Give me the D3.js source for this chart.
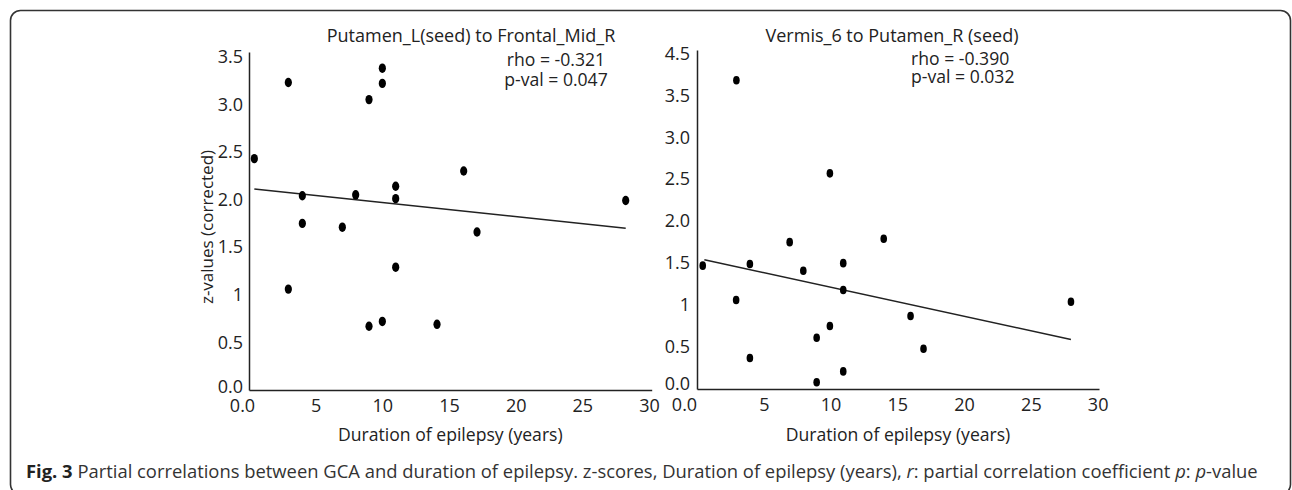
<!DOCTYPE html>
<html>
<head>
<meta charset="utf-8">
<script src="https://cdn.jsdelivr.net/npm/d3@7"></script>
<style>
  body { margin: 0; background: #fff; }
  svg text { font-family: "Open Sans", sans-serif; fill: #222; }
</style>
</head>
<body>
<svg width="1292" height="490"></svg>
<script>
// left panel: Putamen_L(seed) to Frontal_Mid_R
var leftDuration = [2.95, 10.0, 10.0, 9.0, 0.4, 16.1, 11.0, 4.0, 8.0, 11.0, 28.25, 4.0, 7.0, 17.1, 11.0, 2.95, 9.0, 10.0, 14.1];
var leftZ = [3.23, 3.38, 3.22, 3.05, 2.43, 2.30, 2.14, 2.04, 2.05, 2.01, 1.99, 1.75, 1.71, 1.66, 1.29, 1.06, 0.67, 0.72, 0.69];
var leftFitX = [0.4, 28.25];
var leftFitZ = [2.11, 1.70];

// right panel: Vermis_6 to Putamen_R (seed)
var rightDuration = [0.43, 3.96, 6.94, 7.96, 10.95, 10.95, 13.98, 2.93, 28.0, 15.99, 9.95, 8.96, 16.96, 3.96, 10.95, 8.96, 2.95, 9.95];
var rightZ = [1.47, 1.49, 1.75, 1.41, 1.50, 1.18, 1.79, 1.06, 1.04, 0.87, 0.75, 0.61, 0.48, 0.37, 0.21, 0.08, 3.68, 2.57];
var rightFitX = [0.55, 28.0];
var rightFitZ = [1.54, 0.59];

// tick values and the labels printed on them
var xTicks = [0, 5, 10, 15, 20, 25, 30];
var xTickLabels = ["0.0", "5", "10", "15", "20", "25", "30"];
var leftYTicks = [0, 0.5, 1, 1.5, 2, 2.5, 3, 3.5];
var leftYTickLabels = ["0.0", "0.5", "1", "1.5", "2.0", "2.5", "3.0", "3.5"];
var rightYTicks = [0, 0.5, 1, 1.5, 2, 2.5, 3, 3.5, 4];
var rightYTickLabels = ["0.0", "0.5", "1", "1.5", "2.0", "2.5", "3.0", "3.5", "4.5"];

var svg = d3.select("svg");

// rounded frame around the figure
svg.append("rect")
    .attr("x", 10.5).attr("y", 10.5)
    .attr("width", 1280).attr("height", 484)
    .attr("rx", 10)
    .attr("fill", "none")
    .attr("stroke", "#333")
    .attr("stroke-width", 1.6);

function drawPanel(p) {
  var x = d3.scaleLinear().domain(p.xDomain).range(p.xRange);
  var y = d3.scaleLinear().domain(p.yDomain).range(p.yRange);
  var g = svg.append("g");

  // x axis
  var xa = g.append("g")
      .attr("transform", "translate(0," + p.yRange[0] + ")")
      .call(d3.axisBottom(x).tickValues(xTicks)
        .tickFormat(function(d, i) { return xTickLabels[i]; })
        .tickSize(0).tickSizeOuter(0).tickPadding(9));
  xa.selectAll("text").attr("font-size", 18)
      .attr("dx", function(d) { return d === 0 ? p.zeroShift : 0; });

  // y axis
  var ya = g.append("g")
      .attr("transform", "translate(" + p.xRange[0] + ",0)")
      .call(d3.axisLeft(y).tickValues(p.yTicks)
        .tickFormat(function(d, i) { return p.yTickLabels[i]; })
        .tickSize(0).tickSizeOuter(0).tickPadding(p.yPad));
  ya.selectAll("text").attr("font-size", 18)
      .attr("y", function(d) { return d === 0 ? p.zeroLift : 0; });

  g.selectAll(".domain").attr("stroke", "#222").attr("stroke-width", 1.5);

  // fitted line
  var fit = p.fitX.map(function(d, i) { return [d, p.fitZ[i]]; });
  g.append("path")
      .datum(fit)
      .attr("fill", "none")
      .attr("stroke", "#222")
      .attr("stroke-width", 1.5)
      .attr("d", d3.line().x(function(d) { return x(d[0]); }).y(function(d) { return y(d[1]); }));

  // points
  g.selectAll("ellipse")
      .data(p.xs)
      .enter().append("ellipse")
      .attr("cx", function(d) { return x(d); })
      .attr("cy", function(d, i) { return y(p.zs[i]); })
      .attr("rx", p.rx).attr("ry", p.ry)
      .attr("fill", "#000");

  // title
  g.append("text")
      .attr("x", p.titleX).attr("y", p.titleY)
      .attr("text-anchor", "middle")
      .attr("font-size", 18)
      .text(p.title);

  // stats, two lines in one text block
  var st = g.append("text")
      .attr("y", p.statY)
      .attr("text-anchor", p.statAnchor)
      .attr("font-size", 17.6);
  p.stats.forEach(function(s, i) {
    st.append("tspan")
        .attr("x", p.statX)
        .attr("dy", i === 0 ? 0 : p.statGap)
        .text(s);
  });

  // x axis title
  g.append("text")
      .attr("x", (p.xRange[0] + p.xRange[1]) / 2)
      .attr("y", 441)
      .attr("text-anchor", "middle")
      .attr("font-size", 17.6)
      .text("Duration of epilepsy (years)");
}

drawPanel({
  xs: leftDuration, zs: leftZ, fitX: leftFitX, fitZ: leftFitZ,
  xDomain: [0, 30.2], xRange: [249, 651.7],
  yDomain: [0, 3.55], yRange: [390, 52],
  yTicks: leftYTicks, yTickLabels: leftYTickLabels, yPad: 6, zeroShift: -7, zeroLift: -3,
  rx: 3.6, ry: 4.7,
  title: "Putamen_L(seed) to Frontal_Mid_R", titleX: 471, titleY: 42,
  stats: ["rho = -0.321", "p-val = 0.047"], statX: 556, statY: 66, statGap: 20, statAnchor: "middle"
});

drawPanel({
  xs: rightDuration, zs: rightZ, fitX: rightFitX, fitZ: rightFitZ,
  xDomain: [0, 30.1], xRange: [697, 1099],
  yDomain: [0, 4.04], yRange: [389, 50],
  yTicks: rightYTicks, yTickLabels: rightYTickLabels, yPad: 7, zeroShift: -13, zeroLift: -5,
  rx: 3.3, ry: 4.3,
  title: "Vermis_6 to Putamen_R (seed)", titleX: 892, titleY: 42,
  stats: ["rho = -0.390", "p-val = 0.032"], statX: 911, statY: 65, statGap: 18, statAnchor: "start"
});

// y axis title (left panel only)
svg.append("text")
    .attr("transform", "translate(213,227) rotate(-90)")
    .attr("text-anchor", "middle")
    .attr("font-size", 17)
    .text("z-values (corrected)");

// figure caption
var cap = svg.append("text")
    .attr("x", 26).attr("y", 478)
    .attr("font-size", 18.4)
    .style("fill", "#333");
cap.append("tspan").attr("font-weight", "bold").style("fill", "#222").text("Fig. 3");
cap.append("tspan").text(" Partial correlations between GCA and duration of epilepsy. z-scores, Duration of epilepsy (years), ");
cap.append("tspan").attr("font-style", "italic").text("r");
cap.append("tspan").text(": partial correlation coefficient ");
cap.append("tspan").attr("font-style", "italic").text("p");
cap.append("tspan").text(": ");
cap.append("tspan").attr("font-style", "italic").text("p");
cap.append("tspan").text("-value");
</script>
</body>
</html>
